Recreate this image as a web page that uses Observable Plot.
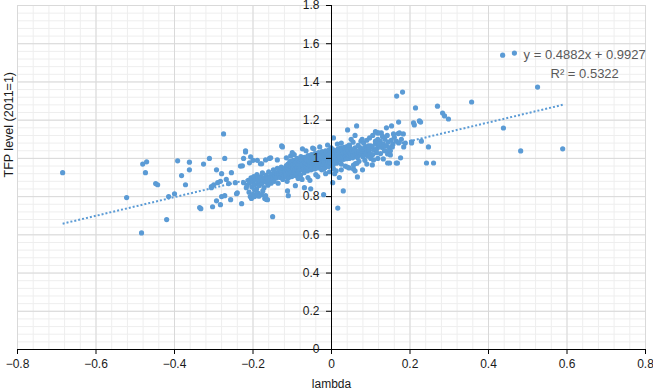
<!DOCTYPE html>
<html><head><meta charset="utf-8">
<script src="https://cdn.jsdelivr.net/npm/d3@7"></script>
<script src="https://cdn.jsdelivr.net/npm/@observablehq/plot@0.6"></script>
<style>body{margin:0;background:#fff}</style>
</head><body><div id="chart"></div>
<script>
// ---- data (lambda, TFP level) ----
const leftPoints = [
[-0.685,0.925],[-0.522,0.795],[-0.484,0.61],[-0.42,0.68],[-0.415,0.80],[-0.40,0.815],
[-0.481,0.97],[-0.471,0.982],[-0.474,0.925],[-0.448,0.868],[-0.443,0.862],
[-0.392,0.987],[-0.362,0.98],[-0.362,0.94],[-0.382,0.91],[-0.372,0.862],
[-0.336,0.743],[-0.333,0.737],[-0.326,0.97],[-0.311,1.0],[-0.306,0.852],[-0.303,0.747],
[-0.293,0.778],[-0.293,0.94],[-0.29,0.873],[-0.283,0.758],[-0.28,0.92],[-0.28,0.80],
[-0.275,1.128],[-0.272,1.0],[-0.272,0.805],[-0.262,0.868],[-0.257,0.784],[-0.255,0.925],
[-0.242,0.815],[-0.24,0.82],[-0.232,0.96],[-0.229,0.763],[-0.224,1.0],[-0.219,1.04],
[-0.245,0.873],[-0.227,0.961],[-0.224,0.873],[-0.217,0.847],[-0.306,0.847],[-0.3,0.862],
[-0.283,0.88],[-0.268,0.89]
];
const clusterLeft = [
[-0.215,0.86],[-0.212,0.885],[-0.208,0.872],[-0.205,0.898],[-0.203,0.85],[-0.2,0.878],[-0.198,0.905],
[-0.196,0.862],[-0.194,0.889],[-0.191,0.84],[-0.19,0.915],[-0.188,0.872],[-0.186,0.896],[-0.184,0.858],
[-0.182,0.88],[-0.18,0.905],[-0.178,0.868],[-0.176,0.924],[-0.174,0.886],[-0.172,0.847],[-0.17,0.9],
[-0.168,0.876],[-0.166,0.912],[-0.164,0.893],[-0.162,0.86],[-0.16,0.93],[-0.158,0.883],[-0.156,0.905],
[-0.154,0.87],[-0.152,0.918],[-0.15,0.895],[-0.148,0.94],[-0.146,0.88],[-0.144,0.91],[-0.142,0.925],
[-0.14,0.898],[-0.138,0.948],[-0.136,0.87],[-0.134,0.915],[-0.132,0.935],[-0.13,0.9],[-0.128,0.955],
[-0.126,0.92],[-0.124,0.89],[-0.122,0.94],[-0.12,0.912],[-0.196,0.835],[-0.21,0.823],[-0.187,0.818],
[-0.175,0.83],[-0.207,0.80],[-0.204,0.79],[-0.2,0.812],[-0.196,0.80],[-0.19,0.815],[-0.185,0.802],
[-0.178,0.81],[-0.17,0.79],[-0.166,0.785],[-0.219,1.034],[-0.206,1.008],[-0.2,0.99],[-0.181,0.972],
[-0.168,0.992],[-0.155,1.003],[-0.209,0.977],[-0.189,0.99],[-0.178,0.972],[-0.158,1.0],[-0.138,0.992],
[-0.127,1.065],[-0.115,1.003],[-0.104,1.013],[-0.092,0.857],[-0.112,0.83],[-0.11,0.805],[-0.074,1.05],
[-0.048,1.054],[-0.069,0.847],[-0.053,0.841],[-0.02,0.81],[-0.125,1.06],[-0.15,0.695],[-0.163,0.784],
[-0.168,0.805]
];
const clusterCore = [
[-0.118,0.95],[-0.117,0.905],[-0.119,0.928],[-0.115,0.962],[-0.114,0.94],[-0.116,0.915],[-0.113,0.88],
[-0.112,0.935],[-0.111,0.97],[-0.11,0.952],[-0.109,0.9],[-0.108,0.945],[-0.107,0.92],[-0.106,0.985],
[-0.105,0.96],[-0.104,0.93],[-0.103,0.958],[-0.102,0.975],[-0.101,0.905],[-0.1,0.942],[-0.099,0.965],
[-0.098,0.948],[-0.097,0.99],[-0.096,0.925],[-0.095,0.955],[-0.094,0.935],[-0.093,0.972],[-0.092,0.91],
[-0.091,0.98],[-0.09,0.962],[-0.089,0.945],[-0.088,1.0],[-0.087,0.92],[-0.086,0.952],[-0.085,0.97],
[-0.084,0.93],[-0.083,0.988],[-0.082,0.965],[-0.081,0.945],[-0.08,0.982],[-0.079,0.912],[-0.078,1.01],
[-0.077,0.958],[-0.076,0.975],[-0.075,0.94],[-0.074,0.99],[-0.073,0.97],[-0.072,0.952],[-0.071,0.985],
[-0.07,0.925],[-0.069,1.005],[-0.068,0.962],[-0.067,0.98],[-0.066,0.945],[-0.065,0.995],[-0.064,0.975],
[-0.063,0.955],[-0.062,0.99],[-0.061,0.935],[-0.06,1.015],[-0.059,0.968],[-0.058,0.985],[-0.057,0.95],
[-0.056,1.0],[-0.055,0.978],[-0.054,0.96],[-0.053,0.995],[-0.052,0.94],[-0.051,1.02],[-0.05,0.97],
[-0.049,0.988],[-0.048,0.955],[-0.047,1.005],[-0.046,0.982],[-0.045,0.965],[-0.044,1.0],[-0.043,0.945],
[-0.042,1.025],[-0.041,0.975],[-0.04,0.992],[-0.039,0.958],[-0.038,1.01],[-0.037,0.985],[-0.036,0.968],
[-0.035,1.003],[-0.034,0.95],[-0.033,1.03],[-0.032,0.978],[-0.031,0.995],[-0.03,0.962],[-0.029,1.015],
[-0.028,0.99],[-0.027,0.972],[-0.026,1.008],[-0.025,0.94],[-0.024,1.035],[-0.023,0.982],[-0.022,1.0],
[-0.021,0.965],[-0.02,1.02],[-0.019,0.995],[-0.018,0.978],[-0.017,1.012],[-0.016,0.952],[-0.015,1.04],
[-0.014,0.988],[-0.013,1.005],[-0.012,0.97],[-0.011,1.025],[-0.01,1.0],[-0.009,0.983],[-0.008,1.018],
[-0.007,0.958],[-0.006,1.045],[-0.005,0.993],[-0.004,1.01],[-0.003,0.975],[-0.002,1.03],[-0.001,1.055],
[-0.095,1.02],[-0.085,0.895],[-0.065,1.04],[-0.06,0.9],[-0.045,1.05],[-0.04,0.915],[-0.03,1.06],
[-0.015,0.92],[-0.01,1.07],[-0.005,0.93],[-0.075,0.89],[-0.055,0.885],[-0.035,0.905],[-0.1,1.03],
[0.001,1.005],[0.002,0.99],[0.003,1.025],[0.004,0.965],[0.005,1.045],[0.006,1.012],[0.007,0.995],
[0.008,1.03],[0.009,0.98],[0.01,1.02],[0.011,1.0],[0.012,1.04],[0.013,0.975],[0.014,1.015],[0.015,1.025],
[0.016,0.99],[0.017,1.05],[0.018,1.018],[0.019,1.002],[0.02,1.038],[0.021,1.01],[0.022,1.028],
[0.023,0.992],[0.024,1.055],[0.025,0.97],[0.026,1.02],[0.027,1.005],[0.028,1.04],[0.029,1.012],
[0.03,1.03],[0.031,0.995],[0.032,1.058],[0.033,1.022],[0.034,1.008],[0.035,1.045],[0.036,1.015],
[0.037,1.033],[0.038,0.998],[0.039,1.062],[0.04,1.025],[0.041,1.01],[0.042,1.048],[0.043,1.018],
[0.044,1.035],[0.045,1.0],[0.046,1.065],[0.047,1.028],[0.048,1.012],[0.049,1.05],[0.05,1.02],
[0.052,1.038],[0.054,1.003],[0.056,1.03],[0.058,1.015],[0.06,1.055],[0.062,1.022],[0.064,1.04],
[0.066,1.005],[0.068,1.068],[0.07,1.033],[0.072,1.018],[0.074,1.055],[0.076,1.025],[0.078,1.045],
[0.08,1.008],[0.082,1.036],[0.084,1.02],[0.086,1.06],[0.088,1.028],[0.09,1.05],[0.092,1.012],
[0.094,1.065],[0.096,1.04],[0.098,1.022],[0.1,1.065],[0.005,0.945],[0.015,1.075],[0.025,1.08],
[0.035,0.96],[0.055,1.085],[0.065,0.975],[0.075,1.09],[0.085,0.99],[0.012,0.935],[0.045,0.95]
];
const clusterRight = [
[0.104,1.06],[0.108,1.045],[0.112,1.078],[0.116,1.052],[0.12,1.07],[0.124,1.09],[0.128,1.058],
[0.132,1.075],[0.136,1.1],[0.14,1.065],[0.144,1.085],[0.148,1.055],[0.152,1.095],[0.156,1.075],
[0.16,1.11],[0.105,1.02],[0.115,1.03],[0.125,1.025],[0.135,1.04],[0.118,1.1],[0.13,1.115],[0.142,1.12],
[0.165,1.09],[0.17,1.13],[0.178,1.1],[0.188,1.08]
];
const rightPoints = [
[0.436,1.54],[0.466,1.551],[0.525,1.373],[0.438,1.159],[0.482,1.039],[0.589,1.05],[0.357,1.295],
[0.27,1.273],[0.283,1.237],[0.288,1.222],[0.298,1.206],[0.166,1.326],[0.181,1.347],[0.214,1.264],
[0.224,1.196],[0.209,1.186],[0.211,1.175],[0.171,1.19],[0.153,1.17],[0.229,1.09],[0.247,1.06],
[0.242,0.976],[0.26,0.976],[0.204,1.086],[0.184,1.06],[0.176,1.003],[0.165,0.976],[0.143,0.976],
[0.15,1.018],[0.104,0.966],[0.066,0.903],[0.079,0.94],[0.03,0.83],[0.008,0.92],[0.003,0.873],
[0.041,1.149],[0.064,1.17],[0.005,1.107],[0.117,1.133],[0.127,1.133],[0.14,1.16],[0.173,1.133],
[0.12,1.133],[0.097,1.107],[0.158,1.128],[0.183,1.128],[0.227,1.19],[0.204,1.081],[0.171,1.081],
[0.155,1.06],[0.122,1.076],[0.143,1.023],[0.132,0.997],[0.148,0.976],[0.168,0.976],[0.107,0.992],
[0.082,1.081],[0.016,0.74],[0.105,1.12],[0.112,1.09],[0.09,1.095],[0.095,1.06],[0.078,1.1],[0.06,1.12],
[0.05,1.1],[0.045,1.07],[0.112,1.14],[0.13,1.06],[0.138,1.04],[0.15,1.04],[0.118,1.0],[0.09,0.97],
[0.1,1.0],[0.07,0.985],[0.056,0.965],[0.04,0.955],[0.06,0.935],[0.02,0.9],[0.025,0.94],[0.061,0.973],
[0.056,0.945],[-0.02,0.945]
];
const xTicks = [-0.8,-0.6,-0.4,-0.2,0,0.2,0.4,0.6,0.8];
const yTicks = [0,0.2,0.4,0.6,0.8,1,1.2,1.4,1.6,1.8];
const slope = 0.4882, intercept = 0.9927;
const eqLines = ["y = 0.4882x + 0.9927", "R\u00b2 = 0.5322"];
const eqAt = [0.645, 1.5];
const xLabel = "lambda", yLabel = "TFP level (2011=1)";

// ---- build ----
const points = [...leftPoints, ...clusterLeft, ...clusterCore, ...clusterRight, ...rightPoints]
  .map(([lambda, tfp]) => ({lambda, tfp}));
const [xmin, xmax] = d3.extent(points, d => d.lambda);
const trend = [xmin, xmax].map(x => ({x, y: slope * x + intercept}));

const W = 653, H = 392, ML = 17, MR = 8, MT = 5, MB = 43;
const xDomain = [-0.8, 0.8], yDomain = [0, 1.8];
const xs = Plot.scale({x: {domain: xDomain, range: [ML, W - MR]}});
const yAxisShift = xs.apply(0) - ML;
const xMinor = d3.range(-0.8, 0.8001, 0.04);
const yMinor = d3.range(0, 1.8001, 0.04);
const fmt = d3.format("~g");
const blue = "#5b9bd5";

const chart = Plot.plot({
  width: W, height: H,
  marginLeft: ML, marginRight: MR, marginTop: MT, marginBottom: MB,
  style: {fontFamily: "'Liberation Sans', Arial, sans-serif", fontSize: "12px", background: "#fff", color: "#1a1a1a"},
  x: {domain: xDomain, axis: null},
  y: {domain: yDomain, axis: null},
  marks: [
    Plot.gridX(xMinor, {stroke: "#eeeeee", strokeOpacity: 1}),
    Plot.gridY(yMinor, {stroke: "#eeeeee", strokeOpacity: 1}),
    Plot.gridX(xTicks, {stroke: "#d9d9d9", strokeOpacity: 1}),
    Plot.gridY(yTicks, {stroke: "#d9d9d9", strokeOpacity: 1}),
    Plot.dot(points, {x: "lambda", y: "tfp", r: 2.6, fill: blue, stroke: null}),
    Plot.line(trend, {x: "x", y: "y", stroke: blue, strokeWidth: 2, strokeDasharray: "2,2", strokeLinecap: "butt"}),
    Plot.ruleX([0], {stroke: "#000"}),
    Plot.ruleY([0], {stroke: "#000"}),
    Plot.axisX(xTicks, {tickSize: 5, tickPadding: 5, tickFormat: fmt, label: null, stroke: "#000", fontSize: 12}),
    Plot.axisY(yTicks, {anchor: "left", dx: yAxisShift, tickSize: 5, tickPadding: 7, tickFormat: fmt, label: null, stroke: "#000", fontSize: 12}),
    Plot.text([eqLines.join("\n")], {x: () => eqAt[0], y: () => eqAt[1], fill: "#595959", fontSize: 13, lineHeight: 1.45, textAnchor: "middle"}),
    Plot.text([xLabel], {frameAnchor: "bottom", dy: 38, fontSize: 12}),
    Plot.text([yLabel], {frameAnchor: "left", rotate: -90, dx: -9, fontSize: 12.5})
  ]
});
document.getElementById("chart").appendChild(chart);
</script>
</body></html>
